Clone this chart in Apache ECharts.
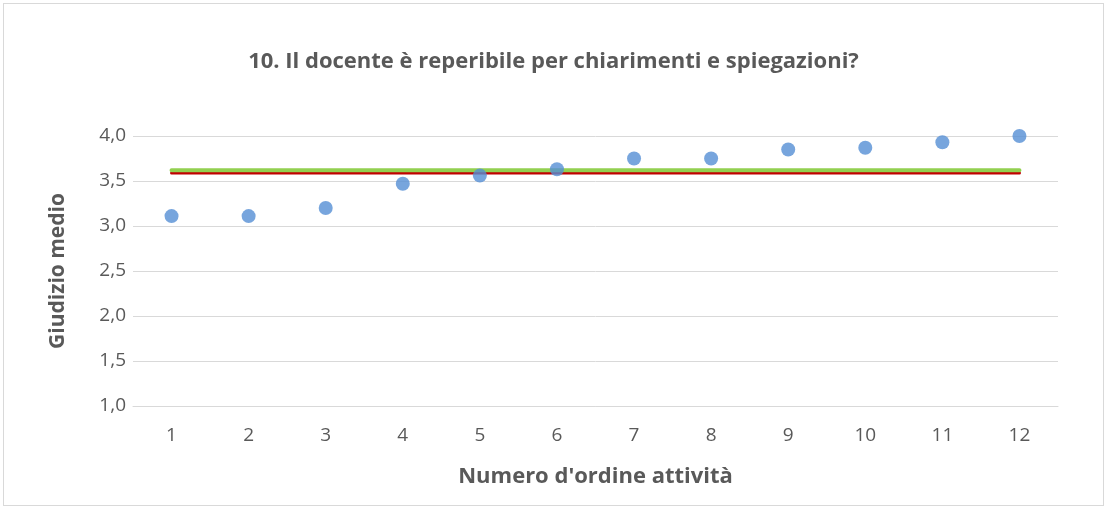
<!DOCTYPE html>
<html>
<head>
<meta charset="utf-8">
<script src="https://cdn.jsdelivr.net/npm/echarts@6/dist/echarts.min.js"></script>
<style>
html, body { margin: 0; padding: 0; background: #fff; }
#frame { position: absolute; left: 3px; top: 3px; width: 1101px; height: 503px; border: 1px solid #d9d9d9; box-sizing: border-box; }
#chart { width: 1107px; height: 509px; }
</style>
</head>
<body>
<div id="frame"></div>
<div id="chart"></div>
<script>
var categories = ['1', '2', '3', '4', '5', '6', '7', '8', '9', '10', '11', '12'];
var giudizio = [3.11, 3.11, 3.20, 3.47, 3.56, 3.63, 3.75, 3.75, 3.85, 3.87, 3.93, 4.00];
var mediaRossa = [3.59, 3.59, 3.59, 3.59, 3.59, 3.59, 3.59, 3.59, 3.59, 3.59, 3.59, 3.59];
var mediaVerde = [3.62, 3.62, 3.62, 3.62, 3.62, 3.62, 3.62, 3.62, 3.62, 3.62, 3.62, 3.62];

var myChart = echarts.init(document.getElementById('chart'));
var font = 'Open Sans';
var option = {
    animation: false,
    title: {
        text: '10. Il docente è reperibile per chiarimenti e spiegazioni?',
        left: 'center',
        top: 46,
        textStyle: { color: '#595959', fontFamily: font, fontSize: 22, fontWeight: 'bold' }
    },
    grid: { left: 133, right: 49, top: 136, bottom: 103 },
    xAxis: {
        type: 'category',
        data: categories,
        boundaryGap: true,
        name: "Numero d'ordine attività",
        nameLocation: 'middle',
        nameGap: 60,
        nameTextStyle: { color: '#595959', fontFamily: font, fontSize: 22, fontWeight: 'bold' },
        axisLine: { lineStyle: { color: '#d9d9d9' } },
        axisTick: { show: false },
        axisLabel: { color: '#595959', fontFamily: font, fontSize: 19, margin: 20 }
    },
    yAxis: {
        type: 'value',
        min: 1,
        max: 4,
        interval: 0.5,
        name: 'Giudizio medio',
        nameLocation: 'middle',
        nameGap: 64,
        nameTextStyle: { color: '#595959', fontFamily: font, fontSize: 21, fontWeight: 'bold' },
        axisLine: { show: false },
        axisTick: { show: false },
        splitLine: { lineStyle: { color: '#d9d9d9', width: 1 } },
        axisLabel: {
            color: '#595959', fontFamily: font, fontSize: 19, margin: 7,
            formatter: function (v) { return v.toFixed(1).replace('.', ','); }
        }
    },
    series: [{
        name: 'media rossa',
        type: 'line',
        data: mediaRossa,
        showSymbol: false,
        lineStyle: { color: '#c00000', width: 3, cap: 'round' },
        z: 2
    }, {
        name: 'media verde',
        type: 'line',
        data: mediaVerde,
        showSymbol: false,
        lineStyle: { color: '#92d050', width: 4, cap: 'round' },
        z: 3
    }, {
        name: 'giudizio',
        type: 'scatter',
        data: giudizio,
        symbol: 'circle',
        symbolSize: 14,
        itemStyle: { color: '#558ed5' },
        z: 4
    }]
};
myChart.setOption(option);
</script>
</body>
</html>
